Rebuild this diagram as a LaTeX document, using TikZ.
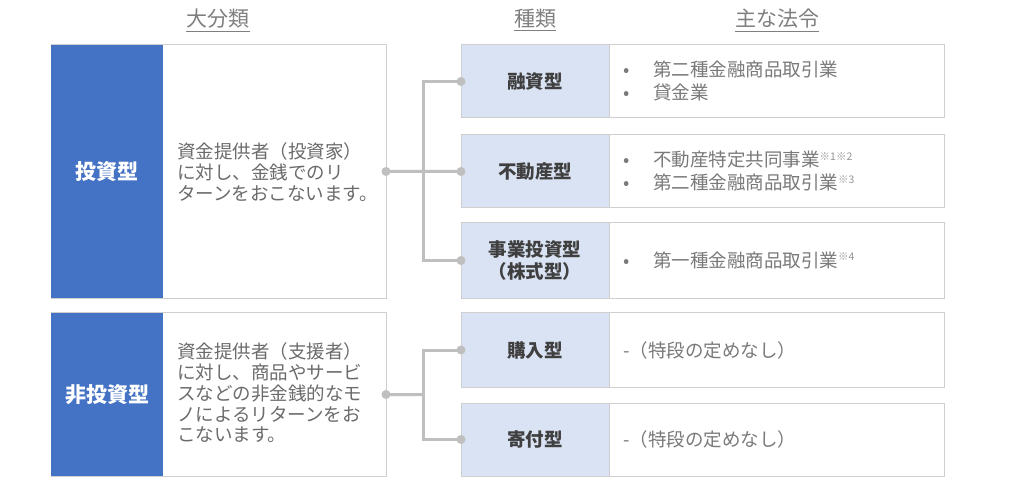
\documentclass[tikz,border=0pt]{standalone}
\usepackage{fontspec}
\setmainfont{Noto Sans CJK JP}
\definecolor{blueC}{HTML}{4472C4}
\definecolor{lightC}{HTML}{DAE3F3}
\definecolor{frameC}{HTML}{CFCFCF}
\definecolor{connC}{HTML}{BFBFBF}
\definecolor{descC}{HTML}{6B6B6B}
\definecolor{lawC}{HTML}{7A7A7A}
\definecolor{labelC}{HTML}{3F3F3F}
\definecolor{headC}{HTML}{7F7F7F}
\newcommand\supnote[1]{\raisebox{6.5bp}{\fontsize{10.5bp}{10.5bp}\selectfont\color{lawC!80!white}#1}}
\newcommand\bul{\makebox[30bp][l]{•}}
\begin{document}
\begin{tikzpicture}[x=1bp,y=-1bp,
  frame/.style={draw=frameC, line width=1bp, fill=white, inner sep=0, outer sep=0, anchor=north west},
  bluecell/.style={fill=blueC, text=white, font=\fontsize{21bp}{24bp}\selectfont\bfseries, inner sep=0, outer sep=0, anchor=north west},
  typecell/.style={fill=lightC, draw=frameC, line width=1bp, text=labelC, font=\fontsize{18.5bp}{22bp}\selectfont\bfseries, align=center, inner sep=0, outer sep=0, anchor=north west, minimum width=148bp},
  desc/.style={anchor=west, align=left, text=descC, font=\fontsize{18.5bp}{20.7bp}\selectfont, inner sep=0},
  law/.style={anchor=west, align=left, text=lawC, font=\fontsize{18.5bp}{23bp}\selectfont, inner sep=0},
  head/.style={text=headC, font=\fontsize{21bp}{24bp}\selectfont, inner sep=0},
  hline/.style={draw=headC, line width=0.8bp},
  conn/.style={draw=connC, line width=3bp},
  dot/.style={fill=connC}
]
\useasboundingbox[fill=white] (0,0) rectangle (1024,481);

% headers
\node[head] (h1) at (218,19) {大分類};
\node[head] (h2) at (535,19) {種類};
\node[head] (h3) at (777,19) {主な法令};
\foreach \h in {h1,h2,h3}
  \draw[hline] ([yshift=-4bp]\h.base west) -- ([yshift=-4bp]\h.base east);

% group 1
\node[frame, minimum width=335bp, minimum height=253bp] (g1) at (51,45) {};
\node[bluecell, minimum width=112bp, minimum height=253bp] (b1) at (51,45) {投資型};
\node[desc] (d1) at (177,172) {資金提供者（投資家）\\に対し、金銭でのリ\\ターンをおこないます。};

% group 2
\node[frame, minimum width=335bp, minimum height=163bp] (g2) at (51,313) {};
\node[bluecell, minimum width=112bp, minimum height=163bp] (b2) at (51,313) {非投資型};
\node[desc] (d2) at (177,393) {資金提供者（支援者）\\に対し、商品やサービ\\スなどの非金銭的なモ\\ノによるリターンをお\\こないます。};

% type rows
\node[frame, minimum width=483bp, minimum height=73bp] (t1) at (461,45) {};
\node[typecell, minimum height=73bp] (l1) at (461,45) {融資型};
\node[law] (r1) at (623,81) {\bul 第二種金融商品取引業\\\bul 貸金業};

\node[frame, minimum width=483bp, minimum height=73bp] (t2) at (461,135) {};
\node[typecell, minimum height=73bp] (l2) at (461,135) {不動産型};
\node[law] (r2) at (623,171) {\bul 不動産特定共同事業\supnote{※1※2}\\\bul 第二種金融商品取引業\supnote{※3}};

\node[frame, minimum width=483bp, minimum height=75bp] (t3) at (461,223) {};
\node[typecell, minimum height=75bp] (l3) at (461,223) {事業投資型\\（株式型）};
\node[law] (r3) at (623,260) {\bul 第一種金融商品取引業\supnote{※4}};

\node[frame, minimum width=483bp, minimum height=74bp] (t4) at (461,313) {};
\node[typecell, minimum height=74bp] (l4) at (461,313) {購入型};
\node[law] (r4) at (623,350) {-（特段の定めなし）};

\node[frame, minimum width=483bp, minimum height=73bp] (t5) at (461,403) {};
\node[typecell, minimum height=73bp] (l5) at (461,403) {寄付型};
\node[law] (r5) at (623,439) {-（特段の定めなし）};

% connectors
\coordinate (j1) at (423,171.5);
\coordinate (j2) at (423,394.5);
\draw[conn] (g1.east) -- (j1);
\draw[conn] (j1) |- (t1.west);
\draw[conn] (j1) -- (t2.west);
\draw[conn] (j1) |- (t3.west);
\draw[conn] (g2.east) -- (j2);
\draw[conn] (j2) |- (t4.west);
\draw[conn] (j2) |- (t5.west);
\foreach \p in {g1.east,g2.east,t1.west,t2.west,t3.west,t4.west,t5.west}
  \fill[dot] (\p) circle (4.5);
\end{tikzpicture}
\end{document}
